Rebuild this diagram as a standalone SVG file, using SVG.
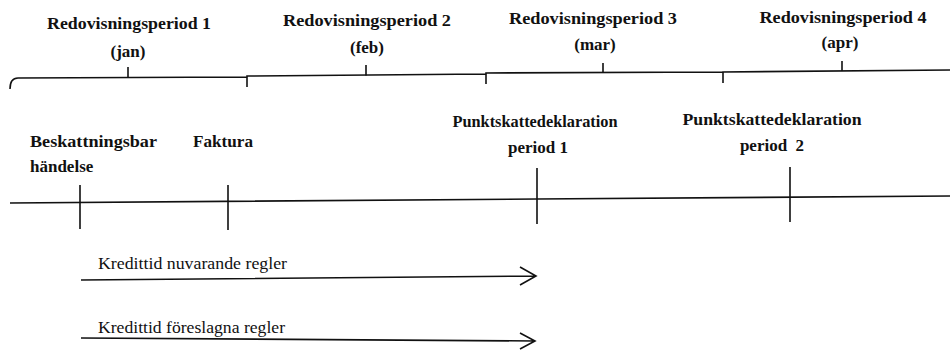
<svg xmlns="http://www.w3.org/2000/svg" width="950" height="351" viewBox="0 0 950 351">
<style>
.b{font-family:"Liberation Serif","Times New Roman",serif;font-weight:bold;font-size:17px;fill:#111}
.r{font-family:"Liberation Serif","Times New Roman",serif;font-size:16px;fill:#111}
.ln{fill:none;stroke:#111;stroke-width:1.6;stroke-linecap:butt}
.m{text-anchor:middle}
</style>
<rect width="950" height="351" fill="#fff"/>
<g id="period1">
<text class="b m" x="129" y="29" textLength="164" lengthAdjust="spacingAndGlyphs">Redovisningsperiod 1</text>
<text class="b m" x="128" y="57">(jan)</text>
</g>
<g id="period2">
<text class="b m" x="367" y="26" textLength="168" lengthAdjust="spacingAndGlyphs">Redovisningsperiod 2</text>
<text class="b m" x="367" y="53">(feb)</text>
</g>
<g id="period3">
<text class="b m" x="593" y="24" textLength="168" lengthAdjust="spacingAndGlyphs">Redovisningsperiod 3</text>
<text class="b m" x="595" y="50">(mar)</text>
</g>
<g id="period4">
<text class="b m" x="843" y="23" textLength="167" lengthAdjust="spacingAndGlyphs">Redovisningsperiod 4</text>
<text class="b m" x="840" y="48">(apr)</text>
</g>
<g id="beskattningsbar">
<text class="b" x="30" y="147" textLength="127" lengthAdjust="spacingAndGlyphs">Beskattningsbar</text>
<text class="b" x="30" y="172">händelse</text>
</g>
<g id="faktura">
<text class="b m" x="223" y="147" textLength="60" lengthAdjust="spacingAndGlyphs">Faktura</text>
</g>
<g id="pskd1">
<text class="b m" x="535" y="127" textLength="165" lengthAdjust="spacingAndGlyphs">Punktskattedeklaration</text>
<text class="b m" x="538" y="153">period 1</text>
</g>
<g id="pskd2">
<text class="b m" x="772" y="125" textLength="179" lengthAdjust="spacingAndGlyphs">Punktskattedeklaration</text>
<text class="b m" x="772" y="151" xml:space="preserve">period  2</text>
</g>
<g id="label-nuvarande">
<text class="r" x="98" y="269" textLength="189" lengthAdjust="spacingAndGlyphs">Kredittid nuvarande regler</text>
</g>
<g id="label-foreslagna">
<text class="r" x="98" y="333" textLength="187" lengthAdjust="spacingAndGlyphs">Kredittid föreslagna regler</text>
</g>
<g id="connectors">
<path class="ln" d="M10,89 Q10,78 18,78 L247,77 M247,87 L247,76 L486,74 M486,84 L486,73 L723,72 M723,83 L723,72 L950,70"/>
<path class="ln" d="M128,77.5 V67 M366,75.5 V65 M603,73 V63 M842,71 V61"/>
<path class="ln" d="M10,203 L537,199 L950,196" stroke-width="2"/>
<path class="ln" d="M80,185 V229 M228,185 V230 M537,168 V224 M790,167 V222"/>
<path class="ln" d="M81,280 L536,276 M520,267 L536,276 L520,285"/>
<path class="ln" d="M81,338 L535,341 M520,333 L535,341 L520,349"/>
</g>
</svg>
